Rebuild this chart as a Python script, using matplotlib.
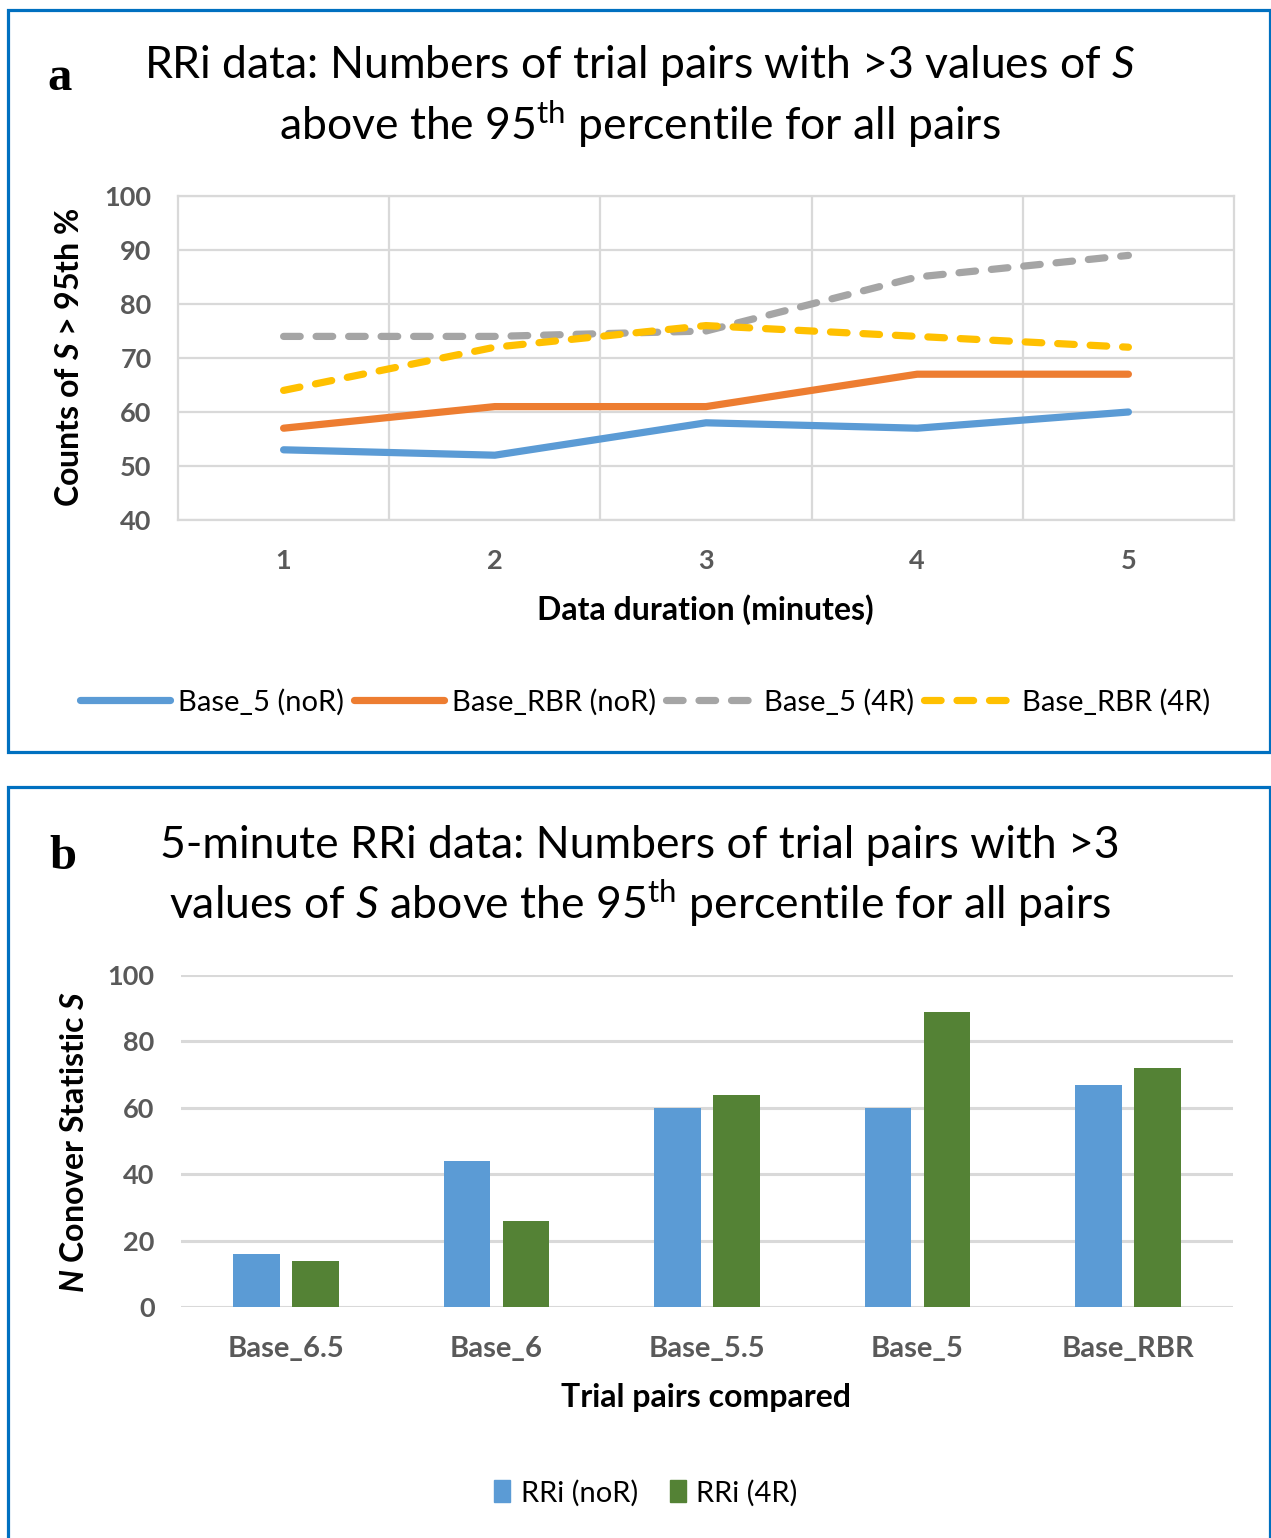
import matplotlib
matplotlib.use("Agg")
import matplotlib.pyplot as plt
import numpy as np
from matplotlib.patches import Rectangle, Patch

W, H = 1271, 1538
DPI = 100

# Panel a: counts per data duration
durations = [1, 2, 3, 4, 5]
base5_noR = [53, 52, 58, 57, 60]
baseRBR_noR = [57, 61, 61, 67, 67]
base5_4R = [74, 74, 75, 85, 89]
baseRBR_4R = [64, 72, 76, 74, 72]
line_labels = ["Base_5 (noR)", "Base_RBR (noR)", "Base_5 (4R)", "Base_RBR (4R)"]
y_ticks_a = [40, 50, 60, 70, 80, 90, 100]

# Panel b: 5-minute data per trial pair
pairs = ["Base_6.5", "Base_6", "Base_5.5", "Base_5", "Base_RBR"]
rri_noR = [16, 44, 60, 60, 67]
rri_4R = [14, 26, 64, 89, 72]
bar_labels = ["RRi (noR)", "RRi (4R)"]
y_ticks_b = [0, 20, 40, 60, 80, 100]

plt.rcParams.update({
    "font.family": ["Lato", "DejaVu Sans"],
    "mathtext.fontset": "custom",
    "mathtext.rm": "Lato",
    "mathtext.it": "Lato:italic",
    "mathtext.bf": "Lato:bold",
    "mathtext.bfit": "Lato:bold:italic",
})

BLUE, ORANGE, GRAY, GOLD, GREEN = "#5B9BD5", "#ED7D31", "#A5A5A5", "#FFC000", "#548235"
GRID = "#D9D9D9"
TICK = "#595959"
FRAME = "#0070C0"

TITLE_FS = 32
AXLABEL_FS = 23
TICK_FS = 19.5
CAT_FS = 21
LEGEND_FS = 21

fig = plt.figure(figsize=(W / DPI, H / DPI), dpi=DPI)


def fx(x):
    return x / W


def fy(y):
    return 1 - y / H


def axrect(l, t, r, b):
    return [fx(l), fy(b), (r - l) / W, (b - t) / H]


# blue panel frames
for (l, t, r, b) in [(7.5, 10, 1269.5, 751.5), (8, 787, 1269.5, 1560)]:
    fig.patches.append(Rectangle((fx(l), fy(b)), (r - l) / W, (b - t) / H,
                                 transform=fig.transFigure, fill=False,
                                 edgecolor=FRAME, lw=2.3, zorder=10))

# ---------------- panel a ----------------
fig.text(fx(60), fy(78), "a", family="Liberation Serif", weight="bold",
         fontsize=35, ha="center", va="center")
fig.text(fx(640), fy(66), r"RRi data: Numbers of trial pairs with >3 values of $\mathit{S}$",
         fontsize=TITLE_FS, ha="center", va="center")
fig.text(fx(640), fy(124), r"above the 95$^{\mathrm{th}}$ percentile for all pairs",
         fontsize=TITLE_FS, ha="center", va="center")

ax1 = fig.add_axes(axrect(178, 196, 1234, 520))
lw = 5.2
dash = (2.3, 2.2)
ax1.plot(durations, base5_noR, color=BLUE, lw=lw, solid_capstyle="round",
         solid_joinstyle="round", label=line_labels[0])
ax1.plot(durations, baseRBR_noR, color=ORANGE, lw=lw, solid_capstyle="round",
         solid_joinstyle="round", label=line_labels[1])
ax1.plot(durations, base5_4R, color=GRAY, lw=lw, dashes=dash, dash_capstyle="round",
         dash_joinstyle="round", label=line_labels[2])
ax1.plot(durations, baseRBR_4R, color=GOLD, lw=lw, dashes=dash, dash_capstyle="round",
         dash_joinstyle="round", label=line_labels[3])

ax1.set_xlim(0.5, 5.5)
ax1.set_ylim(40, 100)
ax1.set_xticks(durations)
ax1.set_xticks(np.arange(1.5, 5.5, 1), minor=True)
ax1.set_yticks(y_ticks_a)
ax1.grid(axis="y", which="major", color=GRID, lw=1.6)
ax1.grid(axis="x", which="minor", color=GRID, lw=1.6)
ax1.set_axisbelow(True)
for s in ax1.spines.values():
    s.set_color(GRID)
    s.set_linewidth(1.6)
ax1.tick_params(which="both", length=0, labelsize=TICK_FS, labelcolor=TICK)
ax1.tick_params(axis="x", pad=21)
ax1.tick_params(axis="y", pad=19)
for lbl in ax1.get_xticklabels() + ax1.get_yticklabels():
    lbl.set_fontweight("bold")

fig.text(fx(705), fy(610), "Data duration (minutes)", fontsize=AXLABEL_FS, weight="bold",
         ha="center", va="center")
fig.text(fx(70), fy(357), r"Counts of $\mathbfit{S}$ > 95th %", fontsize=AXLABEL_FS,
         weight="bold", rotation=90, ha="center", va="center")

fig.legend(handles=ax1.get_lines(), loc="center", bbox_to_anchor=(fx(645), fy(702)),
           ncol=4, frameon=False, fontsize=LEGEND_FS, handlelength=3.1,
           handletextpad=0.25, columnspacing=0.35)

# ---------------- panel b ----------------
fig.text(fx(63), fy(857), "b", family="Liberation Serif", weight="bold",
         fontsize=35, ha="center", va="center")
fig.text(fx(640), fy(845), "5-minute RRi data: Numbers of trial pairs with >3",
         fontsize=TITLE_FS, ha="center", va="center")
fig.text(fx(640), fy(903),
         r"values of $\mathit{S}$ above the 95$^{\mathrm{th}}$ percentile for all pairs",
         fontsize=TITLE_FS, ha="center", va="center")

ax2 = fig.add_axes(axrect(181, 975, 1233, 1307))
x = np.arange(len(pairs))
bw, off = 0.222, 0.14
ax2.bar(x - off, rri_noR, bw, color=BLUE, label=bar_labels[0], zorder=3)
ax2.bar(x + off, rri_4R, bw, color=GREEN, label=bar_labels[1], zorder=3)
ax2.set_xlim(-0.5, len(pairs) - 0.5)
ax2.set_ylim(0, 100)
ax2.set_yticks(y_ticks_b)
ax2.set_xticks(x, pairs)
ax2.grid(axis="y", color=GRID, lw=2.2)
ax2.set_axisbelow(True)
for s in ax2.spines.values():
    s.set_visible(False)
ax2.tick_params(which="both", length=0, labelsize=TICK_FS, labelcolor=TICK)
ax2.tick_params(axis="x", pad=21, labelsize=CAT_FS)
ax2.tick_params(axis="y", pad=19)
for lbl in ax2.get_xticklabels() + ax2.get_yticklabels():
    lbl.set_fontweight("bold")

fig.text(fx(706), fy(1398), "Trial pairs compared", fontsize=AXLABEL_FS, weight="bold",
         ha="center", va="center")
fig.text(fx(75), fy(1142), r"$\mathbfit{N}$ Conover Statistic $\mathbfit{S}$",
         fontsize=AXLABEL_FS, weight="bold", rotation=90, ha="center", va="center")

fig.legend(handles=[Patch(color=BLUE, label=bar_labels[0]),
                    Patch(color=GREEN, label=bar_labels[1])],
           loc="center", bbox_to_anchor=(fx(646), fy(1493)), ncol=2, frameon=False,
           fontsize=LEGEND_FS, handlelength=0.55, handleheight=0.8, handletextpad=0.35,
           columnspacing=1.1)

fig.savefig("out.png", dpi=DPI)
